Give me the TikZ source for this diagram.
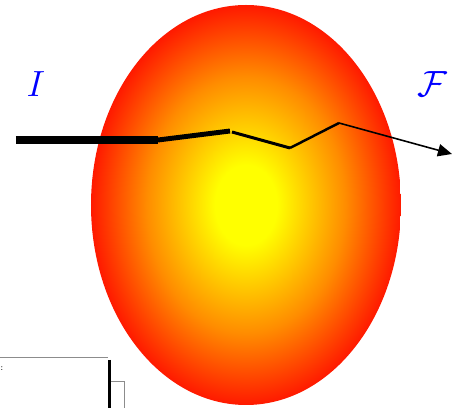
\documentclass[tikz,border=0pt]{standalone}
\usepackage{amsmath,amssymb}
\usetikzlibrary{arrows.meta,positioning}

\pgfdeclareradialshading{glow}{\pgfpoint{0bp}{0bp}}{%
  color(0bp)=(yellow); color(5bp)=(yellow); color(16bp)=(yellow!55!red);
  color(27bp)=(red); color(50bp)=(red)}

\begin{document}
\begin{tikzpicture}[
  x=0.02cm,y=-0.02cm,
  blob/.style={shading=glow},
  lbl/.style={text=blue,font=\fontsize{22}{24}\selectfont},
  seg/.style={line cap=butt,line join=miter},
  frame/.style={draw=black!45,line width=0.5pt},
]
  \useasboundingbox (0,0) rectangle (458,408);

  % Scattering region
  \shade[blob] (246,205) ellipse [x radius=155,y radius=200];
  \node[inner sep=0pt] (blob) at (246,205) {};

  % Labels
  \node[lbl] (in)  at (36,84)  {$I$};
  \node[lbl] (out) at (432,84) {$\mathcal{F}$};

  % Path through the region
  \coordinate (p0) at (16,140);
  \coordinate (p1) at (158,140);
  \coordinate (p2) at (230,131);
  \coordinate (p3) at (232,132);
  \coordinate (p4) at (290,148);
  \coordinate (p5) at (339,123);
  \coordinate (p6) at (452,154);

  \draw[seg,line width=4pt]   (p0) -- (p1);
  \draw[seg,line width=2.8pt] (p1) -- (p2);
  \draw[seg,line width=1.7pt] (p3) -- (p4);
  \draw[seg,line width=1.4pt] (p4) -- (p5);
  \draw[seg,line width=0.9pt,-{Triangle[length=8pt,width=7pt]}] (p5) -- (p6);

  % Cut-off frame, lower left
  \draw[frame] (0,357) -- (108,357);
  \draw[line width=1.4pt] (109.5,360) -- (109.5,408);
  \draw[frame] (111,381) -- (124,381) -- (124,408);
  \node[font=\tiny,inner sep=0pt] (dots) at (2,369) {:};
\end{tikzpicture}
\end{document}
